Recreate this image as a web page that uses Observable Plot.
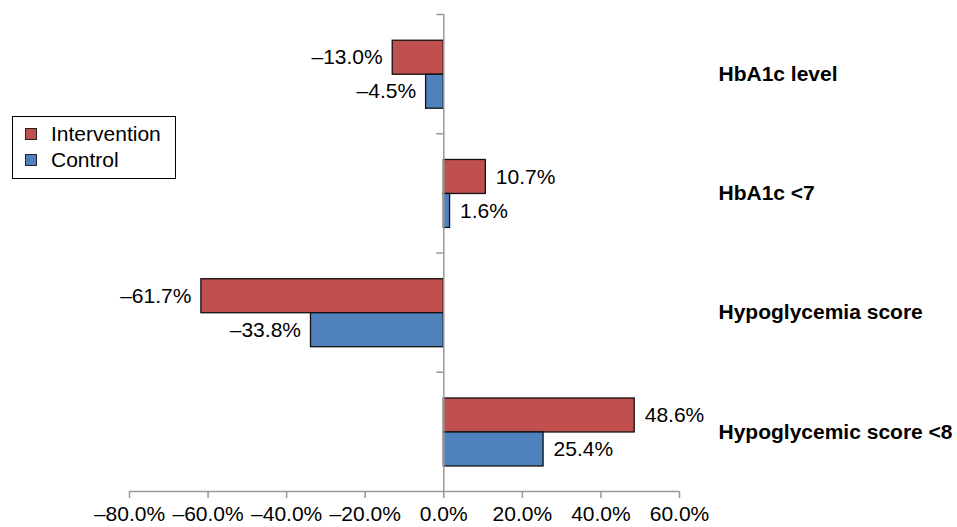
<!DOCTYPE html>
<html>
<head>
<meta charset="utf-8">
<script src="https://cdn.jsdelivr.net/npm/d3@7"></script>
<script src="https://cdn.jsdelivr.net/npm/@observablehq/plot@0.6"></script>
<style>
  html, body { margin: 0; padding: 0; background: #fff; }
  #wrap { position: relative; width: 957px; height: 527px; font-family: "Liberation Sans", Arial, sans-serif; }
  #legend { position: absolute; left: 12px; top: 116px; width: 162px; height: 61px; border: 1px solid #000; background: #fff; font-size: 21px; color: #000; }
  .row { position: absolute; left: 12px; display: flex; align-items: center; height: 24px; }
  .sw { width: 10px; height: 10px; border: 1px solid #222; margin-right: 14px; }
</style>
</head>
<body>
<div id="wrap">
  <div id="chart"></div>
  <div id="legend"></div>
</div>
<script>
const categories = ["HbA1c level", "HbA1c <7", "Hypoglycemia score", "Hypoglycemic score <8"];
const series = ["Intervention", "Control"];
const intervention = [-13.0, 10.7, -61.7, 48.6];
const control = [-4.5, 1.6, -33.8, 25.4];
const xTicks = [-80, -60, -40, -20, 0, 20, 40, 60];
const colors = {Intervention: "#C0504D", Control: "#4F81BD"};

const fmt = d => (d < 0 ? "\u2013" : "") + Math.abs(d).toFixed(1) + "%";

const rows = [];
categories.forEach((c, i) => {
  rows.push({category: c, i, series: "Intervention", value: intervention[i]});
  rows.push({category: c, i, series: "Control", value: control[i]});
});
// sub-band placement of each series inside a category band
const slot = {Intervention: [0.22, 0.505], Control: [0.505, 0.79]};
const y1 = d => d.i + slot[d.series][0];
const y2 = d => d.i + slot[d.series][1];
const ym = d => d.i + (slot[d.series][0] + slot[d.series][1]) / 2;

const chart = Plot.plot({
  width: 957,
  height: 527,
  marginLeft: 129,
  marginRight: 278,
  marginTop: 14,
  marginBottom: 36,
  style: {fontFamily: '"Liberation Sans", Arial, sans-serif', fontSize: "21px", color: "#000", background: "#fff"},
  x: {domain: [-80, 60], label: null},
  y: {domain: [0, categories.length], reverse: true, axis: null},
  marks: [
    Plot.rectX(rows, {x1: 0, x2: "value", y1, y2, fill: d => colors[d.series], stroke: "#111", strokeWidth: 1.3}),
    Plot.ruleX([0], {stroke: "#999", strokeWidth: 1.5}),
    Plot.ruleY(d3.range(categories.length), {x1: 0, x2: 0, insetLeft: -7, stroke: "#999", strokeWidth: 1.5}),
    Plot.ruleY([categories.length], {stroke: "#999", strokeWidth: 1.5}),
    Plot.axisX({ticks: xTicks, tickFormat: fmt, tickSize: 7, tickPadding: 8, stroke: "#999", strokeWidth: 1.5, fontSize: 21, fill: "#000", label: null}),
    Plot.text(rows.filter(d => d.value < 0), {x: "value", y: ym, text: d => fmt(d.value), dx: -10, textAnchor: "end", fontSize: 21, fill: "#000"}),
    Plot.text(rows.filter(d => d.value >= 0), {x: "value", y: ym, text: d => fmt(d.value), dx: 10, textAnchor: "start", fontSize: 21, fill: "#000"}),
    Plot.text(categories, {y: (d, i) => i + 0.5, text: d => d, frameAnchor: "right", dx: 39, textAnchor: "start", fontSize: 21, fontWeight: "bold", fill: "#000"})
  ]
});
document.getElementById("chart").appendChild(chart);

const legend = document.getElementById("legend");
series.forEach((s, k) => {
  const r = document.createElement("div");
  r.className = "row";
  r.style.top = (5 + k * 26) + "px";
  const sw = document.createElement("div");
  sw.className = "sw";
  sw.style.background = colors[s];
  const t = document.createElement("span");
  t.textContent = s;
  r.appendChild(sw);
  r.appendChild(t);
  legend.appendChild(r);
});
</script>
</body>
</html>
